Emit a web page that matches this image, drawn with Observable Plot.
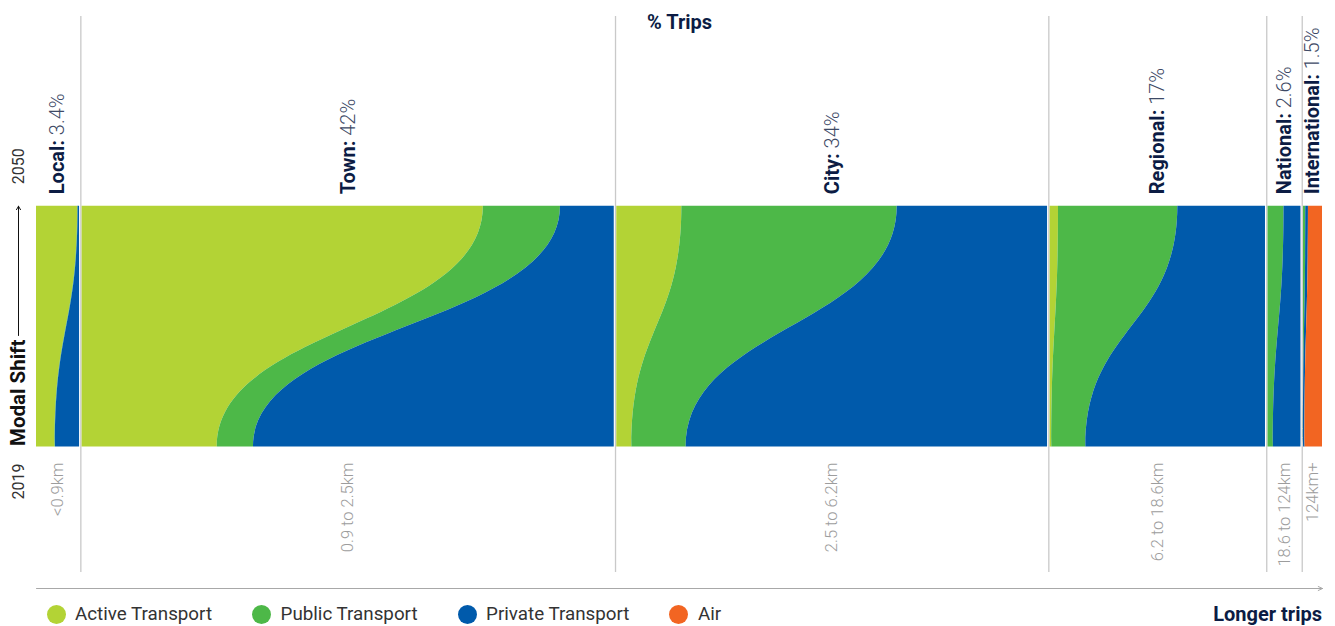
<!DOCTYPE html>
<html>
<head>
<meta charset="utf-8">
<script src="https://cdn.jsdelivr.net/npm/d3@7"></script>
<script src="https://cdn.jsdelivr.net/npm/@observablehq/plot@0.6"></script>
<style>
  html, body { margin: 0; padding: 0; background: #fff; }
  body { width: 1335px; height: 626px; overflow: hidden; font-family: Roboto, "Noto Sans", sans-serif; }
  #chart svg { display: block; }
  #legend { position: relative; height: 26px; }
  #legend .items { position: absolute; left: 46.5px; top: 1px; height: 26px; display: flex; align-items: center; gap: 40px; }
  #legend .item { display: flex; align-items: center; gap: 9.5px; font-size: 18.8px; color: #333; }
  #legend .sw { width: 19px; height: 19px; border-radius: 50%; display: inline-block; }
  #legend .longer { position: absolute; right: 13px; top: 1px; height: 26px; line-height: 26px; font-weight: bold; font-size: 20px; color: #0c1c44; }
</style>
</head>
<body>
<div id="chart"></div>
<div id="legend"><div class="items"></div><div class="longer">Longer trips</div></div>
<script>
// ---- data ----
const categories = ["Local", "Town", "City", "Regional", "National", "International"];
const tripShare = [3.4, 42, 34, 17, 2.6, 1.5];            // % of trips (column widths)
const distances = ["<0.9km", "0.9 to 2.5km", "2.5 to 6.2km", "6.2 to 18.6km", "18.6 to 124km", "124km+"];
const modes = ["Active Transport", "Public Transport", "Private Transport", "Air"];
const modeColors = ["#b3d335", "#4db848", "#005aab", "#f26522"];
const years = [2019, 2050];
// modal shares (%) per category: [active, public, private, air]
const share2019 = [
  [43, 1, 56, 0],
  [25.4, 6.8, 67.8, 0],
  [3.5, 12.6, 83.9, 0],
  [0.8, 15.8, 83.4, 0],
  [0, 16.4, 83.6, 0],
  [0, 0.5, 8, 91.5]
];
const share2050 = [
  [95.5, 1, 3.5, 0],
  [75.4, 14.5, 10.1, 0],
  [15.1, 50, 34.9, 0],
  [3.9, 55.4, 40.7, 0],
  [0, 48.5, 51.5, 0],
  [0, 12, 14, 74]
];

// ---- layout helpers ----
const GAP = 0.2;
const navy = "#0c1c44";
let acc = 0;
const cols = categories.map((c, i) => {
  const s = acc;
  acc += tripShare[i] + GAP;
  return {category: c, start: s, width: tripShare[i], label: `${tripShare[i]}%`, distance: distances[i]};
});
const xTotal = acc - GAP;
const separators = cols.slice(1).map(c => c.start - GAP / 2);

const areaData = [];
cols.forEach((col, i) => {
  years.forEach((yr, k) => {
    const shares = k === 0 ? share2019[i] : share2050[i];
    const total = d3.sum(shares);
    let cum = 0;
    modes.forEach((m, j) => {
      const x1 = col.start + col.width * cum / total;
      cum += shares[j];
      const x2 = col.start + col.width * cum / total;
      areaData.push({key: col.category + "|" + m, mode: m, year: yr, x1, x2});
    });
  });
});

const yBottom = 446.5, yTop = 205.7, axisLineY = 588;

const chart = Plot.plot({
  width: 1335,
  height: 600,
  marginTop: 16,
  marginBottom: 12,
  marginLeft: 36,
  marginRight: 13,
  x: {domain: [0, xTotal], axis: null},
  y: {domain: [2019, 2050], range: [yBottom, yTop], axis: null},
  color: {domain: modes, range: modeColors},
  style: {fontFamily: "Roboto, 'Noto Sans', sans-serif", background: "white", overflow: "visible"},
  marks: [
    Plot.ruleX(separators, {stroke: "#c9c9c9", strokeWidth: 1.3, insetBottom: 16}),
    Plot.areaX(areaData, {x1: "x1", x2: "x2", y: "year", fill: "mode", z: "key", curve: "bump-y"}),
    // top category labels
    Plot.text(cols, {
      x: d => d.start + d.width / 2, y: () => 2050,
      text: d => `${d.category}: ${d.label}`,
      rotate: -90, textAnchor: "start", lineAnchor: "middle", dy: -12,
      fontSize: 20, fontWeight: "bold", fill: navy
    }),
    // bottom distance labels
    Plot.text(cols, {
      x: d => d.start + d.width / 2, y: () => 2019,
      text: "distance",
      rotate: -90, textAnchor: "end", lineAnchor: "middle", dy: 15.5,
      fontSize: 16.5, fontWeight: 300, fill: "#9d9d9d"
    }),
    // year labels
    Plot.text([2050], {y: d => d, text: d => String(d), frameAnchor: "left", dx: -18, dy: -22,
      rotate: -90, textAnchor: "start", lineAnchor: "middle", fontSize: 16, fill: "#333"}),
    Plot.text([2019], {y: d => d, text: d => String(d), frameAnchor: "left", dx: -18, dy: 16.5,
      rotate: -90, textAnchor: "end", lineAnchor: "middle", fontSize: 16, fill: "#333"}),
    Plot.text(["Modal Shift"], {y: () => 2019, frameAnchor: "left", dx: -18, dy: -1,
      rotate: -90, textAnchor: "start", lineAnchor: "middle", fontSize: 20.5, fontWeight: "bold", fill: "#111"}),
    Plot.arrow([{}], {x1: () => 0, x2: () => 0, y1: () => 2019, y2: () => 2050, dx: -18,
      insetStart: yBottom - 335, insetEnd: 0, headLength: 6, stroke: "#111", strokeWidth: 1}),
    // title
    Plot.text(["% Trips"], {frameAnchor: "top", lineAnchor: "middle", dy: 6, fontSize: 20, fontWeight: "bold", fill: navy}),
    // bottom axis arrow
    Plot.arrow([{}], {x1: () => 0, x2: () => xTotal, y1: () => 2019, y2: () => 2019, dy: axisLineY - yBottom,
      headLength: 7, headAngle: 50, stroke: "#a8a8a8", strokeWidth: 1})
  ]
});

// split "Name: value" labels into bold name + light value
d3.select(chart).selectAll("text").each(function() {
  const m = this.textContent.match(/^(\S+:)\s(.+)$/);
  if (!m) return;
  const t = d3.select(this);
  t.text(null);
  t.append("tspan").attr("font-weight", "bold").attr("fill", navy).text(m[1]);
  t.append("tspan").attr("font-weight", 300).attr("fill", "#3e4a66").text(" " + m[2]);
});

document.getElementById("chart").appendChild(chart);

// legend
const items = d3.select("#legend .items");
modes.forEach((m, i) => {
  const it = items.append("div").attr("class", "item");
  it.append("span").attr("class", "sw").style("background", modeColors[i]);
  it.append("span").text(m);
});
</script>
</body>
</html>
